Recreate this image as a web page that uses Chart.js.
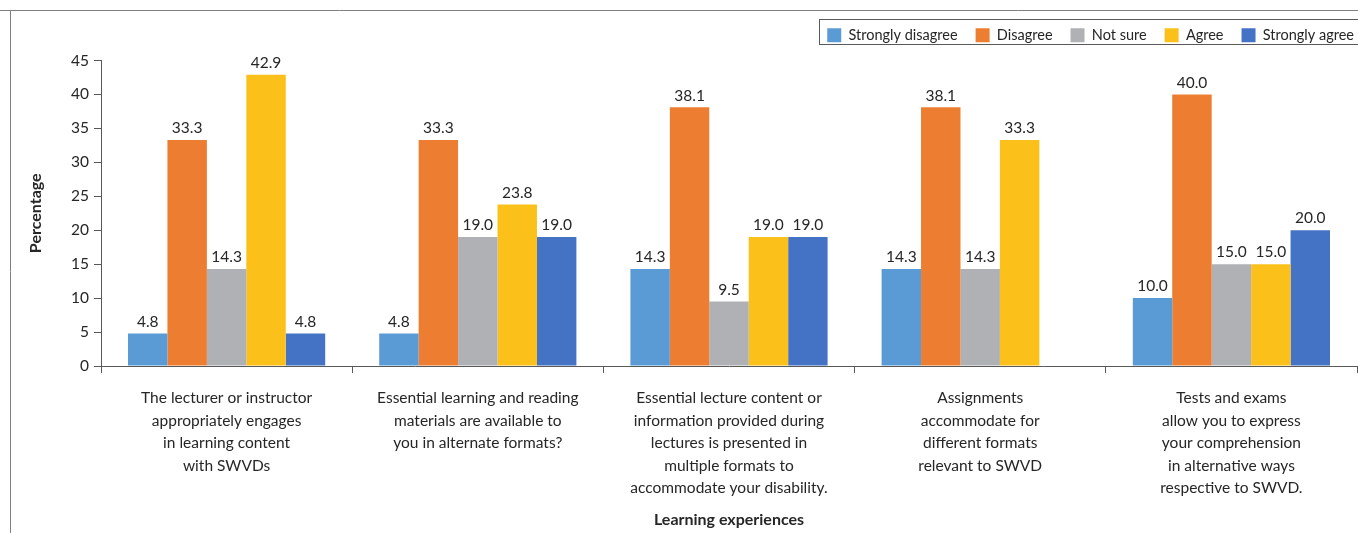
<!DOCTYPE html>
<html>
<head>
<meta charset="utf-8">
<script src="https://cdn.jsdelivr.net/npm/chart.js@4.4.1/dist/chart.umd.min.js"></script>
<style>
  html, body { margin: 0; padding: 0; background: #fff; overflow: hidden; }
  #wrap { position: relative; width: 1358px; height: 533px; }
</style>
</head>
<body>
<div id="wrap"><canvas id="chart" width="1358" height="533"></canvas></div>
<script>
const categories = [
  ['The lecturer or instructor', 'appropriately engages', 'in learning content', 'with SWVDs'],
  ['Essential learning and reading', 'materials are available to', 'you in alternate formats?'],
  ['Essential lecture content or', 'information provided during', 'lectures is presented in', 'multiple formats to', 'accommodate your disability.'],
  ['Assignments', 'accommodate for', 'different formats', 'relevant to SWVD'],
  ['Tests and exams', 'allow you to express', 'your comprehension', 'in alternative ways', 'respective to SWVD.']
];
const stronglyDisagree = [4.8, 4.8, 14.3, 14.3, 10.0];
const disagree = [33.3, 33.3, 38.1, 38.1, 40.0];
const notSure = [14.3, 19.0, 9.5, 14.3, 15.0];
const agree = [42.9, 23.8, 19.0, 33.3, 15.0];
const stronglyAgree = [4.8, 19.0, 19.0, null, 20.0];
const yTicks = [0, 5, 10, 15, 20, 25, 30, 35, 40, 45];

const FONT = 'Lato, "Open Sans", sans-serif';
const TEXT = '#262626';

// frame lines round the figure + border round the legend
const framePlugin = {
  id: 'frame',
  afterLayout(chart) {
    // legend sits a bit further right / higher than chart.js puts it
    const lg = chart.legend, dx = 15, dy = -8;
    lg.left += dx; lg.right += dx; lg.top += dy; lg.bottom += dy;
  },
  beforeDraw(chart) {
    const ctx = chart.ctx;
    ctx.save();
    ctx.strokeStyle = '#7f7f7f';
    ctx.lineWidth = 1;
    ctx.beginPath();
    ctx.moveTo(0, 10.5); ctx.lineTo(chart.width, 10.5);
    ctx.moveTo(10.5, 10); ctx.lineTo(10.5, chart.height);
    ctx.stroke();
    ctx.restore();
  },
  afterDraw(chart) {
    const hb = chart.legend.legendHitBoxes;
    if (!hb || !hb.length) return;
    const last = hb[hb.length - 1];
    const ctx = chart.ctx;
    ctx.save();
    ctx.strokeStyle = '#595959';
    ctx.lineWidth = 1;
    ctx.strokeRect(Math.round(hb[0].left - 8) + 0.5, Math.round(hb[0].top - 9) + 0.5,
      Math.round(last.left + last.width - hb[0].left + 16), Math.round(hb[0].height + 10));
    ctx.restore();
  }
};

// value labels above each bar
const valueLabels = {
  id: 'valueLabels',
  afterDatasetsDraw(chart) {
    const ctx = chart.ctx;
    ctx.save();
    ctx.font = '15.5px ' + FONT;
    ctx.fillStyle = TEXT;
    ctx.textAlign = 'center';
    ctx.textBaseline = 'bottom';
    chart.data.datasets.forEach((ds, i) => {
      const meta = chart.getDatasetMeta(i);
      meta.data.forEach((bar, j) => {
        const v = ds.data[j];
        if (v == null) return;
        ctx.fillText(v.toFixed(1), bar.x, bar.y - 4);
      });
    });
    ctx.restore();
  }
};

function mk(label, data, color) {
  return { label, data, backgroundColor: color, borderWidth: 0, categoryPercentage: 0.785, barPercentage: 1.0 };
}

new Chart(document.getElementById('chart'), {
  type: 'bar',
  data: {
    labels: categories,
    datasets: [
      mk('Strongly disagree', stronglyDisagree, '#5B9BD5'),
      mk('Disagree', disagree, '#ED7D31'),
      mk('Not sure', notSure, '#B0B1B4'),
      mk('Agree', agree, '#FBC01A'),
      mk('Strongly agree', stronglyAgree, '#4472C4')
    ]
  },
  options: {
    responsive: false,
    animation: false,
    layout: { padding: { left: 22, right: 1, top: 18, bottom: 2 } },
    plugins: {
      tooltip: { enabled: false },
      legend: {
        position: 'top',
        align: 'end',
        labels: {
          boxWidth: 14,
          boxHeight: 14,
          padding: 18,
          color: TEXT,
          font: { family: FONT, size: 14.5 }
        }
      }
    },
    scales: {
      x: {
        grid: { display: true, drawOnChartArea: false, color: '#595959', tickLength: 7 },
        border: { color: '#595959' },
        ticks: { color: TEXT, font: { family: FONT, size: 15.5, lineHeight: 1.45 }, padding: 14, maxRotation: 0, autoSkip: false },
        title: { display: true, text: 'Learning experiences', color: TEXT, font: { family: FONT, size: 16, weight: 'bold' }, padding: { top: 0, bottom: 2 } },
        afterFit(scale) { scale.height = 165; }
      },
      y: {
        min: 0,
        max: 45,
        afterBuildTicks(scale) { scale.ticks = yTicks.map(v => ({ value: v })); },
        grid: { display: true, drawOnChartArea: false, color: '#595959', tickLength: 7 },
        border: { color: '#595959' },
        ticks: { color: TEXT, font: { family: FONT, size: 15.5 }, padding: 5 },
        title: { display: true, text: 'Percentage', color: TEXT, font: { family: FONT, size: 16, weight: 'bold' }, padding: { top: 4, bottom: 0 } },
        afterFit(scale) { scale.width = 79; }
      }
    }
  },
  plugins: [framePlugin, valueLabels]
});
</script>
</body>
</html>
